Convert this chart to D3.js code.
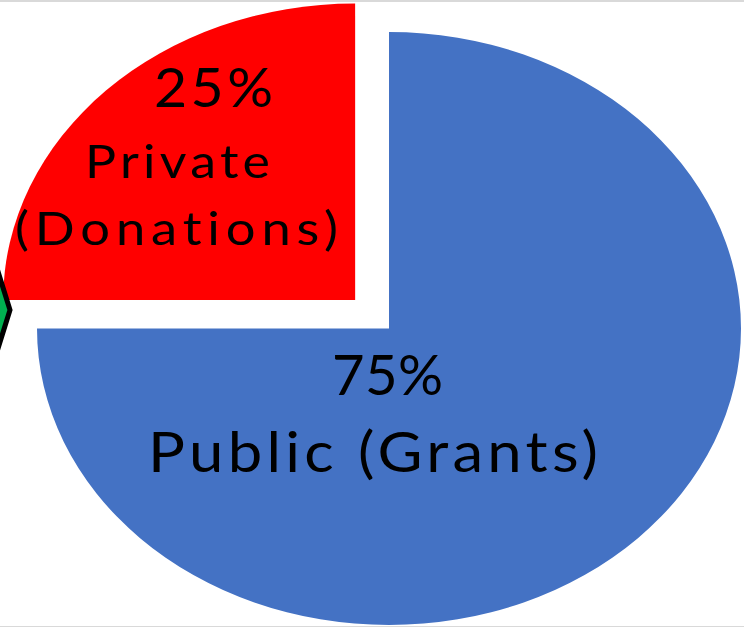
<!DOCTYPE html>
<html><head><meta charset="utf-8">
<script src="https://cdn.jsdelivr.net/npm/d3@7"></script>
<style>html,body{margin:0;padding:0;background:#fff;overflow:hidden} svg{display:block}
text{font-variant-ligatures:none;font-feature-settings:"liga" 0,"clig" 0}</style>
</head><body><svg id="c" width="744" height="627"></svg>
<script>
// ---- data ----
const categories = ["Public (Grants)", "Private (Donations)"];
const values = [75, 25];
const percentLabels = ["75%", "25%"];
const nameLines = [["Public (Grants)"], ["Private", "(Donations)"]];

// ---- style / layout ----
const colors = ["#4472C4", "#FF0000"];
const explode = [0, 0.136];
const W = 744, H = 627, cx = 389, cy = 328.5, rx = 352, ry = 296.5;
// per slice label lines: [x center, baseline y, font size, width]
const labelLayout = [
  [[387.5, 395, 56, 111], [373, 472, 56, 450]],
  [[213.5, 107, 55, 119], [177.5, 178, 47, 185], [176.5, 245, 46, 323]]
];

const svg = d3.select("#c");
svg.append("rect").attr("x", 0).attr("y", 0).attr("width", W).attr("height", H).attr("fill", "#fff");

const pie = d3.pie().sort(null).value(d => d)(values);
const arc = d3.arc().innerRadius(0).outerRadius(1);

const g = svg.append("g").attr("transform", `translate(${cx},${cy}) scale(${rx},${ry})`);
g.selectAll("path").data(pie).join("path")
  .attr("d", arc)
  .attr("fill", (d, i) => colors[i])
  .attr("transform", (d, i) => {
    const a = (d.startAngle + d.endAngle) / 2;
    return `translate(${Math.sin(a) * explode[i]},${-Math.cos(a) * explode[i]})`;
  });

// partially visible marker at left edge
svg.append("polygon")
  .attr("points", "10,310 -10,374 -30,310 -10,246")
  .attr("fill", "#00B050").attr("stroke", "#000").attr("stroke-width", 5)
  .attr("stroke-linejoin", "miter");

// labels
pie.forEach((d, i) => {
  const lines = [percentLabels[i], ...nameLines[i]];
  lines.forEach((t, j) => {
    const [x, y, fs, w] = labelLayout[i][j];
    const txt = svg.append("text")
      .attr("x", 0).attr("y", 0)
      .attr("text-anchor", "middle")
      .attr("font-family", "Lato, 'Open Sans', sans-serif")
      .attr("font-weight", 400)
      .attr("font-size", fs)
      .attr("fill", "#000")
      .text(t);
    const nat = txt.node().getComputedTextLength();
    const sx = Math.pow(w / nat, 0.4);
    txt.attr("transform", `translate(${x},${y}) scale(${sx},1)`)
      .attr("textLength", w / sx).attr("lengthAdjust", "spacing");
  });
});

// frame lines
svg.append("rect").attr("x", 0).attr("y", 0).attr("width", W).attr("height", 2).attr("fill", "#d9d9d9");
svg.append("rect").attr("x", 0).attr("y", 626).attr("width", W).attr("height", 1).attr("fill", "#d9d9d9");
</script></body></html>
